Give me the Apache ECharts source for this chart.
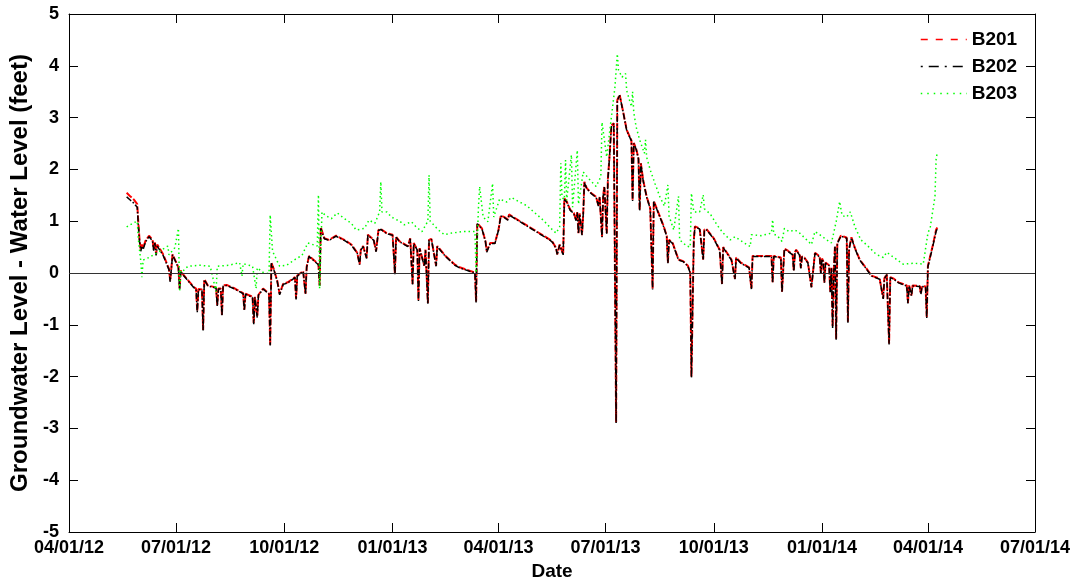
<!DOCTYPE html>
<html>
<head>
<meta charset="utf-8">
<script src="https://cdn.jsdelivr.net/npm/echarts@6/dist/echarts.min.js"></script>
<style>
html,body{margin:0;padding:0;background:#fff;}
#chart{width:1081px;height:586px;}
</style>
</head>
<body>
<div id="chart"></div>
<script>
// ---- data ----
const xTickDates = ['2012-04-01','2012-07-01','2012-10-01','2013-01-01','2013-04-01','2013-07-01','2013-10-01','2014-01-01','2014-04-01','2014-07-01'];
const yTicks = [-5,-4,-3,-2,-1,0,1,2,3,4,5];

const rbDates = [
'2012-05-20','2012-05-23','2012-05-26','2012-05-29','2012-05-30','2012-05-31','2012-06-01','2012-06-02','2012-06-03','2012-06-05',
'2012-06-08','2012-06-11','2012-06-12','2012-06-13','2012-06-14','2012-06-15','2012-06-20','2012-06-25','2012-06-26','2012-06-27',
'2012-06-28','2012-07-03','2012-07-04','2012-07-05','2012-07-06','2012-07-16','2012-07-18','2012-07-19','2012-07-20','2012-07-23',
'2012-07-24','2012-07-25','2012-07-28','2012-08-04','2012-08-05','2012-08-06','2012-08-08','2012-08-09','2012-08-10','2012-08-13',
'2012-08-20','2012-08-27','2012-08-28','2012-08-29','2012-09-04','2012-09-05','2012-09-06','2012-09-07','2012-09-08','2012-09-09',
'2012-09-13','2012-09-18','2012-09-19','2012-09-20','2012-09-22','2012-09-25','2012-09-27','2012-09-30','2012-10-04','2012-10-10',
'2012-10-11','2012-10-12','2012-10-13','2012-10-17','2012-10-19','2012-10-20','2012-10-22','2012-10-30','2012-10-31','2012-11-01',
'2012-11-04','2012-11-08','2012-11-14','2012-11-21','2012-11-27','2012-12-02','2012-12-04','2012-12-05','2012-12-07','2012-12-10',
'2012-12-11','2012-12-16','2012-12-18','2012-12-20','2012-12-22','2012-12-27','2013-01-01','2013-01-03','2013-01-04','2013-01-07',
'2013-01-14','2013-01-16','2013-01-18','2013-01-19','2013-01-22','2013-01-23','2013-01-24','2013-01-28','2013-01-29','2013-01-31',
'2013-02-01','2013-02-03','2013-02-07','2013-02-08','2013-02-15','2013-02-23','2013-02-27','2013-03-08','2013-03-12','2013-03-13',
'2013-03-14','2013-03-18','2013-03-21','2013-03-22','2013-03-25','2013-03-29','2013-04-01','2013-04-03','2013-04-06','2013-04-09',
'2013-04-10','2013-05-15','2013-05-17','2013-05-20','2013-05-21','2013-05-23','2013-05-26','2013-05-27','2013-05-29','2013-06-01',
'2013-06-04','2013-06-06','2013-06-07','2013-06-08','2013-06-09','2013-06-11','2013-06-12','2013-06-13','2013-06-15','2013-06-19',
'2013-06-23','2013-06-25','2013-06-26','2013-06-28','2013-06-29','2013-06-30','2013-07-02','2013-07-03','2013-07-04','2013-07-06',
'2013-07-08','2013-07-10','2013-07-11','2013-07-13','2013-07-16','2013-07-19','2013-07-23','2013-07-24','2013-07-25','2013-07-27',
'2013-07-29','2013-07-30','2013-07-31','2013-08-02','2013-08-05','2013-08-08','2013-08-10','2013-08-11','2013-08-12','2013-08-15',
'2013-08-19','2013-08-22','2013-08-23','2013-08-24','2013-08-27','2013-08-30','2013-09-01','2013-09-05','2013-09-09','2013-09-11',
'2013-09-12','2013-09-14','2013-09-15','2013-09-19','2013-09-22','2013-09-23','2013-09-25','2013-10-01','2013-10-06','2013-10-08',
'2013-10-09','2013-10-16','2013-10-19','2013-10-20','2013-10-24','2013-10-31','2013-11-02','2013-11-03','2013-11-10','2013-11-19',
'2013-11-20','2013-11-21','2013-11-27','2013-11-28','2013-11-30','2013-12-03','2013-12-07','2013-12-08','2013-12-09','2013-12-10',
'2013-12-13','2013-12-14','2013-12-15','2013-12-17','2013-12-20','2013-12-23','2013-12-26','2013-12-30','2013-12-31','2014-01-01',
'2014-01-02','2014-01-03','2014-01-04','2014-01-07','2014-01-08','2014-01-09','2014-01-10','2014-01-11','2014-01-12','2014-01-13',
'2014-01-14','2014-01-17','2014-01-20','2014-01-22','2014-01-23','2014-01-24','2014-01-26','2014-01-29','2014-02-02','2014-02-07',
'2014-02-12','2014-02-19','2014-02-22','2014-02-23','2014-02-25','2014-02-27','2014-02-28','2014-03-03','2014-03-07','2014-03-14',
'2014-03-15','2014-03-16','2014-03-18','2014-03-19','2014-03-25','2014-03-26','2014-03-27','2014-03-30','2014-03-31','2014-04-01',
'2014-04-03','2014-04-05','2014-04-08','2014-04-09'
];

const b201 = [
1.55,1.48,1.42,1.33,0.95,0.62,0.45,0.55,0.48,0.62,
0.72,0.64,0.45,0.60,0.36,0.55,0.36,0.08,-0.15,0.10,
0.36,0.11,-0.30,0.05,0.00,-0.27,-0.30,-0.74,-0.31,-0.32,
-1.10,-0.12,-0.24,-0.28,-0.62,-0.30,-0.30,-0.81,-0.24,-0.23,
-0.30,-0.39,-0.71,-0.40,-0.46,-0.97,-0.46,-0.44,-0.84,-0.42,
-0.30,-0.40,-1.39,0.20,0.08,-0.15,-0.40,-0.21,-0.18,-0.08,
-0.49,-0.05,-0.02,0.04,-0.40,0.12,0.33,0.17,-0.24,0.88,
0.67,0.64,0.72,0.64,0.55,0.39,0.17,0.45,0.52,0.29,
0.74,0.64,0.42,0.83,0.85,0.77,0.74,-0.02,0.70,0.61,
0.52,0.67,-0.21,0.58,0.45,-0.52,0.48,0.14,0.45,-0.58,
0.64,0.66,0.14,0.52,0.33,0.16,0.11,0.04,0.01,-0.55,
0.96,0.86,0.61,0.42,0.58,0.58,0.83,1.11,1.08,1.03,
1.13,0.64,0.60,0.48,0.36,0.55,0.36,1.44,1.38,1.22,
1.16,1.02,1.18,0.77,1.15,0.74,1.12,1.76,1.64,1.54,
1.47,1.30,1.47,0.70,1.50,1.67,0.77,1.82,2.12,2.85,
2.89,-2.88,3.34,3.44,3.11,2.76,2.56,1.40,2.51,2.40,
2.21,1.21,2.12,1.79,1.47,1.25,-0.30,1.39,1.42,1.16,
0.93,0.72,0.20,0.64,0.58,0.39,0.26,0.23,0.14,0.01,
-2.00,0.64,0.90,0.86,0.26,0.84,0.84,0.67,0.45,-0.21,
0.50,0.26,-0.11,0.30,0.20,0.11,-0.30,0.33,0.33,0.33,
-0.18,0.33,0.30,-0.36,0.47,0.43,0.36,0.04,0.40,0.45,
0.35,0.10,0.32,0.30,0.20,-0.27,0.39,0.32,0.00,0.28,
0.23,-0.18,0.20,0.15,-0.36,0.10,-1.04,0.05,0.52,-1.27,
0.58,0.72,0.70,0.68,-0.94,0.47,0.69,0.48,0.26,0.11,
-0.05,-0.11,-0.49,-0.10,-0.02,-1.36,-0.08,-0.11,-0.18,-0.24,
-0.58,-0.24,-0.43,-0.24,-0.25,-0.40,-0.25,-0.26,-0.85,0.14,
0.33,0.52,0.84,0.88
];

const b202 = [
1.47,1.41,1.35,1.27,0.90,0.60,0.42,0.52,0.45,0.60,
0.70,0.62,0.43,0.58,0.34,0.52,0.34,0.06,-0.17,0.08,
0.35,0.10,-0.32,0.04,-0.01,-0.28,-0.31,-0.76,-0.32,-0.33,
-1.11,-0.13,-0.25,-0.29,-0.64,-0.31,-0.31,-0.83,-0.25,-0.24,
-0.31,-0.40,-0.73,-0.41,-0.47,-0.99,-0.47,-0.45,-0.86,-0.43,
-0.31,-0.41,-1.40,0.19,0.07,-0.16,-0.42,-0.22,-0.19,-0.09,
-0.51,-0.06,-0.03,0.03,-0.41,0.11,0.32,0.16,-0.25,0.86,
0.66,0.63,0.71,0.63,0.54,0.38,0.16,0.44,0.51,0.28,
0.73,0.63,0.41,0.82,0.84,0.76,0.73,-0.03,0.69,0.60,
0.51,0.66,-0.22,0.57,0.44,-0.54,0.47,0.13,0.44,-0.60,
0.63,0.65,0.13,0.51,0.32,0.15,0.10,0.03,0.00,-0.57,
0.95,0.85,0.60,0.40,0.57,0.57,0.82,1.10,1.07,1.02,
1.12,0.63,0.59,0.47,0.35,0.54,0.35,1.42,1.37,1.21,
1.15,1.01,1.17,0.76,1.14,0.73,1.11,1.74,1.63,1.53,
1.46,1.29,1.46,0.69,1.49,1.66,0.76,1.81,2.11,2.84,
2.88,-2.90,3.33,3.43,3.10,2.75,2.55,1.39,2.50,2.39,
2.20,1.20,2.11,1.78,1.46,1.24,-0.32,1.38,1.41,1.15,
0.92,0.71,0.19,0.63,0.57,0.38,0.25,0.22,0.13,0.00,
-2.02,0.63,0.89,0.85,0.25,0.83,0.83,0.66,0.44,-0.22,
0.49,0.25,-0.12,0.29,0.19,0.10,-0.31,0.32,0.32,0.32,
-0.19,0.32,0.29,-0.37,0.46,0.42,0.35,0.03,0.39,0.44,
0.34,0.09,0.31,0.29,0.19,-0.28,0.38,0.31,-0.01,0.27,
0.22,-0.19,0.19,0.14,-0.37,0.09,-1.06,0.04,0.51,-1.29,
0.57,0.71,0.69,0.67,-0.96,0.46,0.68,0.47,0.25,0.10,
-0.06,-0.12,-0.50,-0.11,-0.03,-1.38,-0.09,-0.12,-0.19,-0.25,
-0.59,-0.25,-0.44,-0.25,-0.26,-0.41,-0.26,-0.27,-0.87,0.12,
0.31,0.50,0.81,0.85
];

const gDates = [
'2012-05-20','2012-05-23','2012-05-26','2012-05-29','2012-05-30','2012-06-01','2012-06-02','2012-06-03','2012-06-08','2012-06-17',
'2012-06-24','2012-06-25','2012-06-30','2012-07-03','2012-07-04','2012-07-05','2012-07-07','2012-07-11','2012-07-21','2012-07-30',
'2012-08-04','2012-08-05','2012-08-15','2012-08-24','2012-08-26','2012-08-27','2012-09-04','2012-09-07','2012-09-08','2012-09-13',
'2012-09-18','2012-09-19','2012-09-21','2012-09-27','2012-10-03','2012-10-10','2012-10-16','2012-10-21','2012-10-29','2012-10-30',
'2012-10-31','2012-11-02','2012-11-05','2012-11-10','2012-11-15','2012-11-21','2012-11-27','2012-12-01','2012-12-08','2012-12-12',
'2012-12-17','2012-12-21','2012-12-22','2012-12-23','2012-12-27','2012-12-31','2013-01-07','2013-01-11','2013-01-17','2013-01-21',
'2013-01-26','2013-01-31','2013-02-01','2013-02-02','2013-02-09','2013-02-14','2013-02-20','2013-03-02','2013-03-12','2013-03-13',
'2013-03-15','2013-03-16','2013-03-19','2013-03-23','2013-03-27','2013-03-28','2013-04-02','2013-04-08','2013-04-12','2013-04-19',
'2013-04-25','2013-05-09','2013-05-17','2013-05-20','2013-05-23','2013-05-24','2013-05-25','2013-05-27','2013-05-28','2013-05-29',
'2013-06-02','2013-06-03','2013-06-07','2013-06-08','2013-06-12','2013-06-18','2013-06-23','2013-06-27','2013-06-28','2013-07-02',
'2013-07-05','2013-07-09','2013-07-11','2013-07-12','2013-07-15','2013-07-18','2013-07-19','2013-07-23','2013-07-24','2013-07-25',
'2013-07-27','2013-07-30','2013-08-03','2013-08-04','2013-08-05','2013-08-08','2013-08-12','2013-08-16','2013-08-20','2013-08-23',
'2013-08-24','2013-08-28','2013-09-01','2013-09-02','2013-09-08','2013-09-11','2013-09-12','2013-09-14','2013-09-19','2013-09-22',
'2013-09-23','2013-09-28','2013-10-04','2013-10-09','2013-10-15','2013-10-19','2013-10-29','2013-11-01','2013-11-02','2013-11-10',
'2013-11-19','2013-11-20','2013-11-21','2013-11-24','2013-11-28','2013-11-30','2013-12-04','2013-12-09','2013-12-13','2013-12-19',
'2013-12-23','2013-12-26','2013-12-30','2014-01-05','2014-01-09','2014-01-13','2014-01-16','2014-01-18','2014-01-22','2014-01-25',
'2014-01-29','2014-02-03','2014-02-09','2014-02-16','2014-02-22','2014-02-25','2014-03-03','2014-03-11','2014-03-20','2014-03-28',
'2014-04-01','2014-04-03','2014-04-07','2014-04-08','2014-04-09'
];

const b203 = [
0.89,0.93,0.97,1.00,0.64,0.23,-0.08,0.25,0.30,0.42,
0.52,0.35,0.49,0.86,-0.36,0.05,0.04,0.13,0.15,0.13,
-0.36,0.13,0.15,0.20,-0.06,0.18,0.13,-0.30,0.10,0.01,
-0.01,1.12,0.42,0.13,0.15,0.26,0.34,0.58,0.52,1.51,
-0.30,1.18,1.11,1.05,1.16,1.05,0.96,0.83,0.86,1.02,
0.96,1.18,1.76,1.18,1.18,1.08,1.00,0.93,0.99,0.89,
0.80,1.00,1.89,1.00,0.83,0.74,0.77,0.80,0.80,0.00,
1.27,1.67,1.08,0.99,1.73,1.08,1.43,1.37,1.46,1.37,
1.30,1.02,0.83,0.77,0.89,2.12,1.46,1.42,2.18,1.40,
2.28,1.27,2.37,1.33,1.95,1.79,1.67,1.86,2.91,2.24,
2.82,3.59,4.23,3.92,3.78,3.85,3.52,3.21,3.50,3.10,
2.82,2.57,2.31,2.57,2.23,1.99,1.73,1.48,1.29,1.70,
1.10,0.83,1.48,0.64,0.52,0.50,1.54,1.18,1.18,1.51,
1.24,1.14,0.92,0.77,0.64,0.70,0.55,0.51,0.74,0.72,
0.77,1.03,0.75,0.72,0.61,0.86,0.80,0.83,0.77,0.64,
0.55,0.80,0.74,0.64,0.58,0.99,1.38,1.11,1.08,1.18,
0.89,0.64,0.52,0.36,0.30,0.40,0.30,0.17,0.19,0.17,
0.77,0.89,1.48,2.24,2.30
];

// ---- chart ----
const ts = d => Date.parse(d + 'T00:00:00Z');
const xTickVals = xTickDates.map(ts);
const pad2 = n => (n < 10 ? '0' : '') + n;
const fmtDate = v => { const d = new Date(v); return pad2(d.getUTCMonth() + 1) + '/' + pad2(d.getUTCDate()) + '/' + pad2(d.getUTCFullYear() % 100); };
const FONT = "'Liberation Sans', Arial, sans-serif";

const chart = echarts.init(document.getElementById('chart'), null, {renderer: 'canvas'});
const axisLineStyle = {color: '#000', width: 1};
const hiddenSymbol = {opacity: 0};
chart.setOption({
  animation: false,
  backgroundColor: '#fff',
  grid: {left: 69, right: 46, top: 14, bottom: 51},
  legend: {
    show: true, orient: 'vertical', left: 920, top: 30, padding: 0,
    itemWidth: 46, itemHeight: 18, itemGap: 8,
    itemStyle: hiddenSymbol,
    textStyle: {fontFamily: FONT, fontSize: 19, fontWeight: 'bold', color: '#000'},
    data: [
      {name: 'B201', itemStyle: hiddenSymbol, lineStyle: {type: [7, 8], width: 1.5, color: '#ff0000', opacity: 1}},
      {name: 'B202', itemStyle: hiddenSymbol, lineStyle: {type: [2, 6, 10, 6], width: 1.3, color: '#000', opacity: 1}},
      {name: 'B203', itemStyle: hiddenSymbol, lineStyle: {type: [1.5, 5], width: 1.5, color: '#00ff00', opacity: 1}}
    ]
  },
  xAxis: [{
    type: 'value', position: 'bottom', min: xTickVals[0], max: xTickVals[xTickVals.length - 1],
    axisLine: {show: true, onZero: false, lineStyle: axisLineStyle},
    axisTick: {show: true, inside: true, length: 9, customValues: xTickVals, lineStyle: axisLineStyle},
    axisLabel: {customValues: xTickVals, formatter: fmtDate, fontFamily: FONT, fontSize: 18, fontWeight: 'bold', color: '#000', margin: 7},
    splitLine: {show: false},
    name: 'Date', nameLocation: 'middle', nameGap: 30,
    nameTextStyle: {fontFamily: FONT, fontSize: 19, fontWeight: 'bold', color: '#000'}
  }, {
    type: 'value', position: 'top', min: xTickVals[0], max: xTickVals[xTickVals.length - 1],
    axisLine: {show: true, onZero: false, lineStyle: axisLineStyle},
    axisTick: {show: true, inside: true, length: 9, customValues: xTickVals, lineStyle: axisLineStyle},
    axisLabel: {show: false}, splitLine: {show: false}
  }],
  yAxis: [{
    type: 'value', position: 'left', min: yTicks[0], max: yTicks[yTicks.length - 1], interval: 1,
    axisLine: {show: true, onZero: false, lineStyle: axisLineStyle},
    axisTick: {show: true, inside: true, length: 9, lineStyle: axisLineStyle},
    axisLabel: {fontFamily: FONT, fontSize: 18, fontWeight: 'bold', color: '#000', margin: 10},
    splitLine: {show: false},
    name: 'Groundwater Level - Water Level (feet)', nameLocation: 'middle', nameGap: 30,
    nameTextStyle: {fontFamily: FONT, fontSize: 24, fontWeight: 'bold', color: '#000'}
  }, {
    type: 'value', position: 'right', min: yTicks[0], max: yTicks[yTicks.length - 1], interval: 1,
    axisLine: {show: true, onZero: false, lineStyle: axisLineStyle},
    axisTick: {show: true, inside: true, length: 9, lineStyle: axisLineStyle},
    axisLabel: {show: false}, splitLine: {show: false}
  }],
  series: [{
    name: 'B201', type: 'line', symbol: 'none', showSymbol: false,
    data: rbDates.map((d, i) => [ts(d), b201[i]]),
    lineStyle: {color: '#ff0000', width: 2, type: [7, 2]},
    itemStyle: {color: '#ff0000'}, z: 2
  }, {
    name: 'B202', type: 'line', symbol: 'none', showSymbol: false,
    data: rbDates.map((d, i) => [ts(d), b202[i]]),
    lineStyle: {color: '#000', width: 1.5, type: [6, 2, 1.5, 2]},
    itemStyle: {color: '#000'}, z: 3
  }, {
    name: 'B203', type: 'line', symbol: 'none', showSymbol: false,
    data: gDates.map((d, i) => [ts(d), b203[i]]),
    lineStyle: {color: '#00ff00', width: 1.5, type: [1.5, 3]},
    itemStyle: {color: '#00ff00'}, z: 4,
    markLine: {
      silent: true, symbol: ['none', 'none'], label: {show: false},
      lineStyle: {color: '#333', width: 1.2, type: 'solid'},
      data: [{yAxis: 0}]
    }
  }]
});
</script>
</body>
</html>
